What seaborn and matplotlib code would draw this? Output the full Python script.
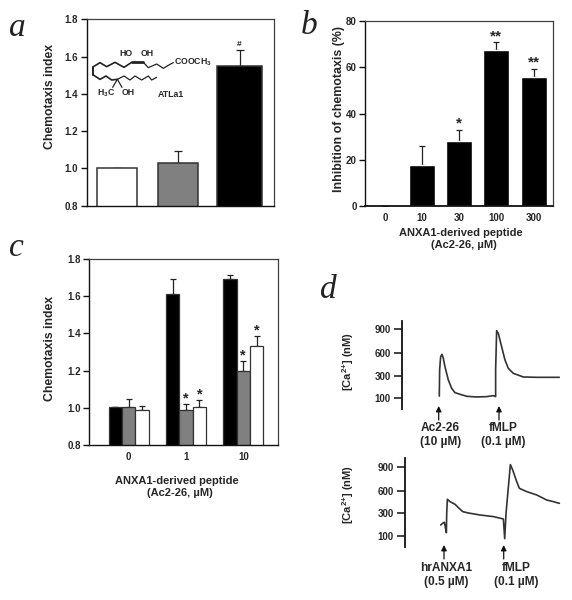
import numpy as np
import pandas as pd
import seaborn as sns
import matplotlib.pyplot as plt
from matplotlib.lines import Line2D

# panel a
a_labels = ['ctrl', 'ATLa1', 'LTB4']
a_values = [1.0, 1.03, 1.55]
a_err = [0.0, 0.065, 0.085]
a_colors = ['white', '#808080', 'black']

# panel b
b_doses = ['0', '10', '30', '100', '300']
b_values = [0, 17.5, 28, 67.5, 56]
b_err = [0, 8.2, 5, 3.5, 3.5]
b_stars = ['', '', '*', '**', '**']

# panel c
c_doses = ['0', '1', '10']
c_black = [1.005, 1.61, 1.69]
c_gray = [1.005, 0.99, 1.2]
c_white = [0.99, 1.005, 1.33]
c_black_err = [0.0, 0.08, 0.025]
c_gray_err = [0.04, 0.03, 0.05]
c_white_err = [0.02, 0.035, 0.055]

# panel d, traces
d1_time = [0, 1, 4, 8, 12, 17, 27, 37, 47, 62, 82, 112, 142, 162, 169, 169, 172, 177, 187, 197, 207, 222, 252, 292, 360]
d1_ca = [120, 380, 555, 587, 535, 423, 265, 190, 151, 136, 118, 112, 115, 124, 115, 380, 883, 850, 683, 512, 402, 335, 291, 288, 288]
d2_time = [0, 6, 11, 14, 17, 18, 20, 28, 43, 53, 66, 83, 118, 158, 188, 192, 196, 209, 216, 228, 236, 258, 288, 318, 338, 356]
d2_ca = [197, 212, 221, 176, 129, 300, 485, 454, 419, 375, 322, 304, 285, 271, 250, 76, 300, 930, 866, 716, 630, 587, 543, 476, 454, 432]

# ATLa1 drawing, in 3x pixels of the figure
mol_top = [(280, 200), (300, 188), (320, 200), (345, 187), (372, 202), (395, 187)]
mol_bold = [(395, 187), (430, 187)]
mol_tail = [(430, 187), (445, 203), (470, 192), (490, 205), (510, 193), (520, 188)]
mol_left = [(280, 200), (280, 225)]
mol_bottom = [(280, 225), (300, 238), (318, 228), (335, 240), (352, 238)]
mol_chain = [(352, 238), (372, 228), (390, 240), (405, 228), (425, 240), (445, 228), (455, 240), (470, 232)]
mol_methyl = [(352, 238), (338, 262)]
mol_oh = [(352, 238), (366, 262)]

W, H = 572, 600
BOLD = 'Liberation Sans'

sns.set_theme(style='ticks')
plt.rcParams['font.family'] = BOLD
plt.rcParams['font.weight'] = 'bold'
plt.rcParams['mathtext.fontset'] = 'custom'
plt.rcParams['mathtext.rm'] = 'Liberation Sans:bold'
plt.rcParams['mathtext.default'] = 'rm'

fig = plt.figure(figsize=(W / 100, H / 100), dpi=100, facecolor='white')


def make_ax(left, top, right, bottom):
    return fig.add_axes([left / W, 1 - bottom / H, (right - left) / W, (bottom - top) / H])


def style(ax, size=7):
    for s in ['top', 'right']:
        ax.spines[s].set_color('#404040')
        ax.spines[s].set_linewidth(0.9)
    for s in ['left', 'bottom']:
        ax.spines[s].set_color('#111111')
        ax.spines[s].set_linewidth(1.0)
    ax.tick_params(axis='both', length=4, width=1.0, labelsize=size, pad=2, color='#111111')


def upper_err(ax, bars, values, err, lw=0.9, cap=2.4):
    xs = [b.get_x() + b.get_width() / 2 for b in bars]
    ax.errorbar(xs, values, yerr=[np.zeros(len(err)), err], fmt='none', ecolor='#222222',
                elinewidth=lw, capsize=cap, capthick=lw, zorder=1)


def fig_text(x, y, s, **kw):
    kw.setdefault('ha', 'center')
    kw.setdefault('va', 'center')
    fig.text(x / W, 1 - y / H, s, **kw)


def fig_line(pts, lw=0.9, color='#222222'):
    xs, ys = zip(*pts)
    fig.add_artist(Line2D(np.array(xs) / 3 / W, 1 - np.array(ys) / 3 / H, lw=lw, color=color, zorder=5))


# a
ax = make_ax(86.7, 19.3, 274, 205.7)
df = pd.DataFrame({'g': a_labels, 'v': a_values})
sns.barplot(data=df, x='g', y='v', hue='g', palette=a_colors, width=0.65, edgecolor='#333333',
            linewidth=1.1, legend=False, ax=ax, zorder=2)
bars = list(ax.patches)
bars[2].set_x(2 - 0.363)
bars[2].set_width(0.726)
upper_err(ax, bars, a_values, a_err, cap=3.2)
ax.set_xlim(-0.49, 2.56)
ax.set_ylim(0.8, 1.8)
ax.set_yticks([0.8, 1.0, 1.2, 1.4, 1.6, 1.8])
ax.set_yticklabels(['0.8', '1.0', '1.2', '1.4', '1.6', '1.8'])
ax.set_xticks([])
ax.set_xlabel('')
ax.set_ylabel('Chemotaxis index', fontsize=8.8, fontweight='bold', labelpad=6.5)
ax.yaxis.label.set_y(0.588)
style(ax)
ax.text(2, 1.645, '#', ha='center', va='bottom', fontsize=6)

fig_line(mol_top, lw=1.2)
fig_line(mol_bold, lw=2)
fig_line(mol_tail)
fig_line(mol_left, lw=1.4)
fig_line(mol_bottom, lw=1.2)
fig_line(mol_chain)
fig_line(mol_methyl)
fig_line(mol_oh)
fig_text(126, 53, 'HO', fontsize=6.3)
fig_text(147, 53, 'OH', fontsize=6.3)
fig_text(192.6, 62.5, 'COOCH$_{3}$', fontsize=6.3)
fig_text(106, 93, 'H$_{3}$C', fontsize=6.3)
fig_text(127.7, 92.7, 'OH', fontsize=6.3)
fig_text(170.7, 94, 'ATLa1', fontsize=6.3)

# b
ax = make_ax(365.3, 21.3, 553.3, 205.7)
df = pd.DataFrame({'dose': b_doses, 'v': b_values})
sns.barplot(data=df, x='dose', y='v', color='black', width=0.7, saturation=1, ax=ax, zorder=2)
upper_err(ax, list(ax.patches), b_values, b_err, cap=2.2)
ax.set_xlim(-0.53, 4.53)
ax.set_ylim(0, 80)
ax.set_yticks([0, 20, 40, 60, 80])
ax.set_xlabel('')
ax.set_ylabel('Inhibition of chemotaxis (%)', fontsize=8.9, fontweight='bold', labelpad=1)
ax.yaxis.label.set_y(0.522)
style(ax)
ax.spines['bottom'].set_linewidth(1.3)
ax.tick_params(axis='x', length=0, pad=5)
for i, s in enumerate(b_stars):
    if s:
        ax.text(i, b_values[i] + b_err[i] - 0.5, s, ha='center', va='bottom', fontsize=11)
fig_text(461, 232.5, 'ANXA1-derived peptide', fontsize=8)
fig_text(464, 245.5, '(Ac2-26, µM)', fontsize=8)

# c
ax = make_ax(89.3, 259, 277.7, 445)
df = pd.DataFrame({'dose': c_doses * 3,
                   'v': c_black + c_gray + c_white,
                   'grp': ['LTB4'] * 3 + ['low'] * 3 + ['high'] * 3})
sns.barplot(data=df, x='dose', y='v', hue='grp', palette=['black', '#808080', 'white'], width=0.7,
            gap=0, saturation=1, edgecolor='#333333', linewidth=0.9, legend=False, ax=ax, zorder=2)
bars = list(ax.patches)
for k, (vals, err) in enumerate([(c_black, c_black_err), (c_gray, c_gray_err), (c_white, c_white_err)]):
    upper_err(ax, bars[k * 3:k * 3 + 3], vals, err)
    for j in range(3):
        if (k, j) in [(1, 1), (2, 1), (1, 2), (2, 2)]:
            b = bars[k * 3 + j]
            ax.text(b.get_x() + b.get_width() / 2, vals[j] + err[j] - 0.006, '*', ha='center', va='bottom', fontsize=10.5)
ax.set_xlim(-0.686, 2.6)
ax.set_ylim(0.8, 1.8)
ax.set_yticks([0.8, 1.0, 1.2, 1.4, 1.6, 1.8])
ax.set_yticklabels(['0.8', '1.0', '1.2', '1.4', '1.6', '1.8'])
ax.set_xlabel('')
ax.set_ylabel('Chemotaxis index', fontsize=8.8, fontweight='bold', labelpad=8)
ax.yaxis.label.set_y(0.52)
style(ax)
ax.tick_params(axis='x', length=0, pad=5)
fig_text(177, 480.7, 'ANXA1-derived peptide', fontsize=8)
fig_text(180, 492.7, '(Ac2-26, µM)', fontsize=8)


# d: the calcium scale is not linear in the original
def ca_axis(top, bottom, left, right, t, ca, stops, t0):
    a = make_ax(left, top, right, bottom)
    sns.lineplot(x=t, y=ca, sort=False, estimator=None, errorbar=None, color='#333333', lw=1.2, ax=a)
    levels = [0, 100, 300, 600, 900, 1000]
    a.set_yscale('function', functions=(lambda v: np.interp(v, levels, stops),
                                        lambda p: np.interp(p, stops, levels)))
    a.set_ylim(0, 1000)
    a.set_xlim(t0, t0 + (right - left))
    a.set_yticks([100, 300, 600, 900])
    a.set_yticklabels(['100', '300', '600', '900'])
    a.minorticks_off()
    a.set_xticks([])
    a.set_xlabel('')
    a.set_ylabel('')
    sns.despine(ax=a, bottom=True)
    a.spines['left'].set_linewidth(1.3)
    a.spines['left'].set_color('#111111')
    a.tick_params(axis='y', length=6, width=1.1, labelsize=7, pad=2, color='#111111')
    a.patch.set_alpha(0)
    return a


d1_x = np.array(d1_time) / 3
d2_x = np.array(d2_time) / 3
ca_axis(321, 409.3, 402, 565, d1_x, d1_ca, [0, 33, 100, 168, 240, 265], -37.3)
ca_axis(458.3, 547.3, 405, 565, d2_x, d2_ca, [0, 34, 102, 170, 240, 267], -35.7)

fig_text(348, 361.7, '[Ca$^{2{+}}$] (nM)', rotation=90, fontsize=8)
fig_text(348, 495, '[Ca$^{2{+}}$] (nM)', rotation=90, fontsize=8)

arrow = dict(arrowstyle='-|>', color='#111111', lw=0.9, mutation_scale=8, shrinkA=0, shrinkB=0)
for x, y0, y1 in [(438.7, 420, 406), (499, 420, 406), (444, 559, 545), (503.7, 559, 545)]:
    fig.add_artist(plt.Annotation('', xy=(x / W, 1 - y1 / H), xytext=(x / W, 1 - y0 / H),
                                  xycoords='figure fraction', textcoords='figure fraction', arrowprops=arrow))

fig_text(440, 428.3, 'Ac2-26', fontsize=8.6)
fig_text(441, 442, '(10 µM)', fontsize=8.6)
fig_text(503, 428.3, 'fMLP', fontsize=8.6)
fig_text(503, 442, '(0.1 µM)', fontsize=8.6)
fig_text(446, 568, 'hrANXA1', fontsize=8.6)
fig_text(446, 581.7, '(0.5 µM)', fontsize=8.6)
fig_text(516, 568, 'fMLP', fontsize=8.6)
fig_text(516, 581.7, '(0.1 µM)', fontsize=8.6)

# panel letters
for x, y, s in [(17, 28, 'a'), (309, 26, 'b'), (16, 248, 'c'), (328, 290, 'd')]:
    fig_text(x, y, s, family='Liberation Serif', style='italic', fontweight='normal', fontsize=24, color='#222222')

fig.savefig('out.png', dpi=100, facecolor='white')
